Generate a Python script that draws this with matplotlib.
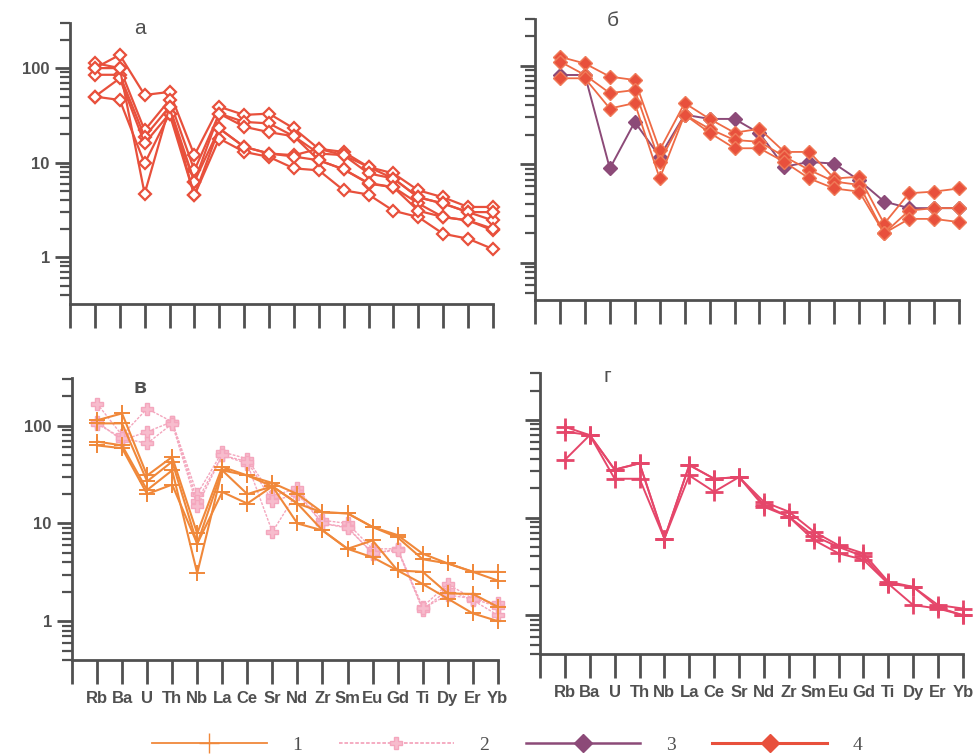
import matplotlib
matplotlib.use("Agg")
import matplotlib.pyplot as plt
from matplotlib.lines import Line2D

plt.rcParams['font.family'] = ['Liberation Sans', 'DejaVu Sans']

elements = ["Rb", "Ba", "U", "Th", "Nb", "La", "Ce", "Sr", "Nd",
            "Zr", "Sm", "Eu", "Gd", "Ti", "Dy", "Er", "Yb"]

# panel а - group 4 (open diamonds)
a_1 = [100, 138, 52, 56, 12, 39, 32, 33, 23, 14, 13, 9.0, 7.7, 5.1, 4.3, 3.4, 3.4]
a_2 = [113, 100, 22, 46, 8.3, 33, 27, 26, 19, 12.5, 12, 9.0, 6.8, 4.3, 3.7, 3.0, 2.45]
a_3 = [85, 85, 18.8, 39, 6.3, 33, 24, 21, 19, 10.6, 8.5, 6.0, 5.5, 3.7, 2.66, 2.45, 1.92]
a_4 = [50, 78, 16, 33, 6.3, 23, 14.7, 12.5, 12, 14, 12, 7.7, 6.8, 4.3, 3.7, 3.0, 3.0]
a_5 = [50, 46, 9.8, 33, 4.5, 18, 13, 11.5, 8.7, 8.3, 5.1, 4.6, 3.1, 2.66, 1.77, 1.57, 1.22]
a_6 = [100, 100, 4.7, 39, 4.5, 23, 14.7, 12.5, 11.6, 10.6, 8.5, 6.1, 5.5, 3.1, 2.66, 2.45, 2.0]

# panel б - group 3 (purple) and group 4 (red)
b_purple = [81, 81, 9.1, 27, 12, 32, 29, 29, 20.7, 9.5, 10.6, 10.2, 6.9, 4.2, 3.6, 3.6, 3.6]
b_1 = [124, 106, 78, 72, 14, 42, 29, 21, 23, 13.4, 13.4, 7.2, 7.5, 2.5, 5.1, 5.3, 5.7]
b_2 = [111, 81, 53, 57, 10.6, 32, 23, 17.7, 17, 12, 8.8, 6.7, 6.2, 2.0, 3.4, 3.6, 3.6]
b_3 = [75, 75, 37, 42, 7.2, 32, 21, 14.6, 14.6, 10.6, 7.2, 5.7, 5.3, 2.0, 2.8, 2.8, 2.6]

# panel в - group 1 (orange) and group 2 (pink)
v_o1 = [114, 134, 31, 48, 7.9, 38, 31, 26, 20, 13, 12.7, 9.2, 7.6, 4.9, 3.9, 3.2, 3.2]
v_o2 = [106, 106, 27, 43, 6.2, 35, 31, 24, 16, 13, 12.7, 9.2, 7.2, 4.3, 3.9, 3.2, 2.6]
v_o3 = [69, 63, 22, 35, 3.1, 35, 20, 24, 16, 8.5, 5.5, 6.7, 3.3, 3.2, 1.92, 1.9, 1.4]
v_o4 = [63, 59, 20, 25, 6.2, 21, 16, 24, 10, 8.5, 5.5, 4.5, 3.3, 2.4, 1.7, 1.2, 1.0]
v_p1 = [169, 80, 150, 110, 20, 54, 46, 19, 23, 10.8, 10, 5.5, 5.5, 1.4, 2.4, 1.7, 1.52]
v_p2 = [110, 71, 87, 110, 17, 50, 41, 8.2, 21, 10, 9.2, 4.9, 5.5, 1.3, 2.1, 1.64, 1.15]
v_p3 = [105, 75, 66, 105, 15, 50, 43, 17, 20, 10, 9, 5.0, 5.3, 1.35, 1.85, 1.7, 1.4]

# panel г
g_1 = [85, 70, 31, 36, 6.1, 34.5, 25, 26, 14.5, 11.5, 7.2, 5.2, 4.3, 2.2, 1.95, 1.27, 1.17]
g_2 = [76, 70, 31, 36, 6.1, 34.5, 25, 26, 13.5, 10.2, 6.5, 5.0, 4.0, 2.1, 1.95, 1.2, 1.0]
g_3 = [39, 70, 25, 25, 6.1, 27, 18.4, 26, 12.9, 10.2, 5.9, 4.3, 3.7, 2.1, 1.27, 1.17, 1.0]

legend_labels = ["1", "2", "3", "4"]

GREY = '#505050'
ORANGE = '#f0883a'
PINK = '#f4a6bd'
PURPLE = '#8c4a78'
RED = '#e8503c'
CRIMSON = '#e5466a'

x = list(range(1, len(elements) + 1))

fig = plt.figure(figsize=(9.79, 7.54), dpi=100)
ax_a = fig.add_axes([0.0715, 0.5968, 0.432, 0.3727])
ax_b = fig.add_axes([0.5465, 0.6021, 0.433, 0.3727])
ax_v = fig.add_axes([0.0735, 0.1247, 0.435, 0.374])
ax_g = fig.add_axes([0.5516, 0.1326, 0.432, 0.3727])


def style_axis(ax, ylim, ylabels, xlabels, letter, lpos, bold=False):
    ax.set_yscale('log')
    ax.set_xlim(0, len(elements))
    ax.set_ylim(*ylim)
    for s in ['top', 'right']:
        ax.spines[s].set_visible(False)
    for s in ['left', 'bottom']:
        ax.spines[s].set_color(GREY)
        ax.spines[s].set_linewidth(2.0)
    ax.set_xticks(range(0, len(elements) + 1))
    ax.tick_params(axis='x', direction='out', length=17, width=2.0, color=GREY, pad=5)
    ax.tick_params(axis='y', which='major', direction='out', length=11, width=2.0, color=GREY)
    ax.tick_params(axis='y', which='minor', direction='out', length=7, width=1.6, color=GREY)
    ax.set_yticks([1, 10, 100])
    if ylabels:
        ax.set_yticklabels(["1", "10", "100"], fontsize=12, fontweight='bold', color=GREY)
    else:
        ax.set_yticklabels([])
    ax.yaxis.set_minor_formatter(matplotlib.ticker.NullFormatter())
    if xlabels:
        ax.set_xticklabels([""] + elements, fontsize=12, fontweight='bold', color=GREY)
    else:
        ax.set_xticklabels([])
    ax.text(lpos[0], lpos[1], letter, transform=ax.transAxes, fontsize=15, color=GREY,
            fontweight='bold' if bold else 'normal', ha='center', va='center')


# а
for s in [a_1, a_2, a_3, a_4, a_5, a_6]:
    ax_a.plot(x, s, color=RED, lw=1.6, marker='D', ms=6.5, mfc='white', mec=RED, mew=1.6,
              clip_on=False)
style_axis(ax_a, (0.32, 300), True, False, "а", (0.165, 0.98))

# б
for s in [b_1, b_2, b_3]:
    ax_b.plot(x, s, color='#ee6a45', lw=1.3, marker='D', ms=7, mfc=RED, mec='#f07a58', mew=1.0,
              clip_on=False)
ax_b.plot(x, b_purple, color=PURPLE, lw=1.4, marker='D', ms=7, mfc=PURPLE, mec=PURPLE, clip_on=False,
          zorder=1.5)
style_axis(ax_b, (0.42, 300), False, False, "б", (0.184, 0.995))

# в
for s in [v_p1, v_p2, v_p3]:
    ax_v.plot(x, s, color=PINK, lw=1.0, ls=(0, (2, 1)), marker='P', ms=9, mfc='#f7bccd',
              mec=PINK, mew=1.0, clip_on=False)
for s in [v_o1, v_o2, v_o3, v_o4]:
    ax_v.plot(x, s, color=ORANGE, lw=1.5, marker='+', ms=12, mew=1.4, clip_on=False)
style_axis(ax_v, (0.4, 309), True, True, "в", (0.16, 0.968), bold=True)

# г
for s in [g_1, g_2, g_3]:
    ax_g.plot(x, s, color=CRIMSON, lw=1.4, marker='+', ms=13, mew=2.0, clip_on=False)
style_axis(ax_g, (0.4, 303), False, True, "г", (0.16, 0.986))

handles = [
    Line2D([], [], color=ORANGE, lw=1.3, marker='+', ms=14, mew=1.0),
    Line2D([], [], color=PINK, lw=1.3, ls=(0, (2, 1)), marker='P', ms=9, mfc='#f7bccd', mec=PINK),
    Line2D([], [], color=PURPLE, lw=1.8, marker='D', ms=9, mfc=PURPLE, mec=PURPLE),
    Line2D([], [], color=RED, lw=2.2, marker='D', ms=9, mfc=RED, mec=RED),
]
fig.legend(handles, legend_labels, loc='center', bbox_to_anchor=(0.518, 0.012), ncol=4,
           frameon=False, numpoints=1, handlelength=5.9, handletextpad=1.3, columnspacing=1.9,
           prop={'family': ['Liberation Serif', 'DejaVu Serif'], 'size': 14}, labelcolor=GREY)

fig.savefig("out.png", dpi=100)
